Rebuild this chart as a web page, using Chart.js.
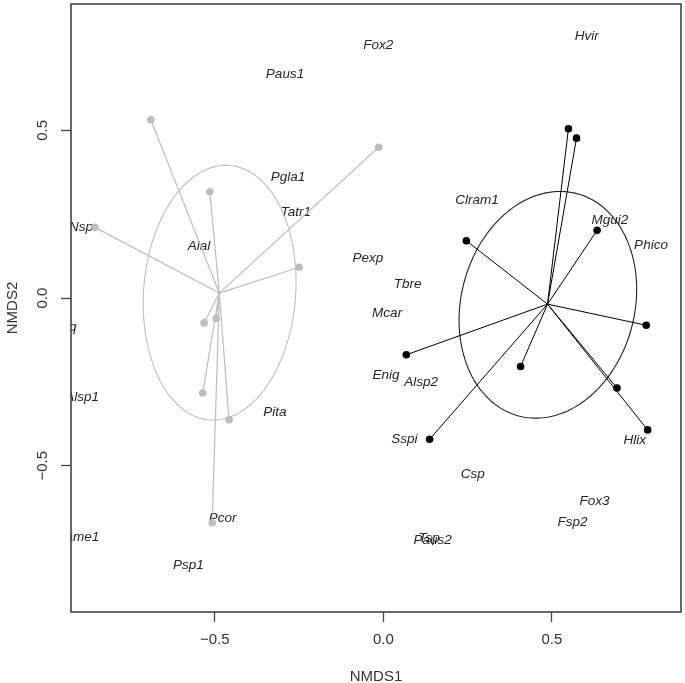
<!DOCTYPE html>
<html>
<head>
<meta charset="utf-8">
<script src="https://cdn.jsdelivr.net/npm/chart.js@4/dist/chart.umd.min.js"></script>
<style>
html,body{margin:0;padding:0;background:#fff;}
canvas{display:block;}
</style>
</head>
<body>
<canvas id="c" width="685" height="683"></canvas>
<script>
// ---- data ----
const xTicks = [-0.5, 0.0, 0.5];
const xTickLabels = ['\u22120.5', '0.0', '0.5'];
const yTicks = [-0.5, 0.0, 0.5];
const yTickLabels = ['\u22120.5', '0.0', '0.5'];
const xTitle = 'NMDS1';
const yTitle = 'NMDS2';

// group 1 (grey) sites
const greyX = [-0.690, -0.515, -0.856, -0.250, -0.014, -0.532, -0.496, -0.536, -0.458, -0.508];
const greyY = [ 0.532,  0.317,  0.211,  0.092,  0.450, -0.074, -0.061, -0.283, -0.363, -0.670];
const greyCentroid = [-0.487, 0.015];

// group 2 (black) sites
const blackX = [0.549, 0.573, 0.634, 0.246, 0.780, 0.068, 0.407, 0.693, 0.784, 0.137];
const blackY = [0.505, 0.477, 0.202, 0.171, -0.081, -0.169, -0.204, -0.268, -0.393, -0.421];
const blackCentroid = [0.487, -0.018];

// ellipses: centre, conjugate semi-axis u, conjugate semi-axis v (data units)
const greyEllipse = [-0.486, 0.016, 0.226, 0.0, 0.019, 0.380];
const blackEllipse = [0.488, -0.020, 0.261, 0.0, 0.036, 0.338];

// species labels
const speciesNames = ['Paus1','Fox2','Hvir','Pgla1','Tatr1','Nsp','Alal','Clram1','Mgui2','Phico',
  'Pexp','Tbre','Mcar','Lsq','Enig','Alsp2','Alsp1','Pita','Sspi','Hlix','Csp','Fox3','Fsp2',
  'Pcor','Came1','Psp1','Paus2','Tsp'];
const speciesX = [-0.292,-0.015,0.603,-0.283,-0.260,-0.897,-0.547,0.278,0.672,0.794,
  -0.046,0.072,0.011,-0.943,0.008,0.112,-0.894,-0.322,0.062,0.746,0.265,0.626,0.561,
  -0.477,-0.908,-0.579,0.146,0.136];
const speciesY = [0.668,0.753,0.782,0.361,0.255,0.210,0.154,0.292,0.233,0.157,
  0.119,0.042,-0.046,-0.087,-0.230,-0.250,-0.297,-0.339,-0.421,-0.424,-0.525,-0.607,-0.668,
  -0.655,-0.713,-0.797,-0.723,-0.716];

// ---- build datasets ----
const GREY = '#BEBEBE';
const datasets = [];
greyX.forEach((x, i) => {
  datasets.push({type:'line', data:[{x:greyCentroid[0], y:greyCentroid[1]}, {x:x, y:greyY[i]}],
    borderColor:GREY, borderWidth:1.2, pointRadius:0, fill:false, tension:0});
});
blackX.forEach((x, i) => {
  datasets.push({type:'line', data:[{x:blackCentroid[0], y:blackCentroid[1]}, {x:x, y:blackY[i]}],
    borderColor:'#000', borderWidth:1, pointRadius:0, fill:false, tension:0});
});
datasets.push({type:'scatter', data:greyX.map((x,i)=>({x:x, y:greyY[i]})),
  pointRadius:3.8, pointBackgroundColor:GREY, pointBorderWidth:0, borderColor:GREY});
datasets.push({type:'scatter', data:blackX.map((x,i)=>({x:x, y:blackY[i]})),
  pointRadius:3.8, pointBackgroundColor:'#000', pointBorderWidth:0, borderColor:'#000'});

const FONT = '"Liberation Sans", Arial, Helvetica, sans-serif';

const decor = {
  id: 'decor',
  beforeDatasetsDraw(chart) {
    const {ctx, chartArea:a, scales:{x, y}} = chart;
    ctx.save();
    ctx.beginPath();
    ctx.rect(a.left, a.top, a.right - a.left, a.bottom - a.top);
    ctx.clip();
    // species labels
    ctx.fillStyle = '#262626';
    ctx.font = 'italic 13.5px ' + FONT;
    ctx.textAlign = 'center';
    ctx.textBaseline = 'middle';
    speciesNames.forEach((n, i) => {
      ctx.fillText(n, x.getPixelForValue(speciesX[i]), y.getPixelForValue(speciesY[i]));
    });
    // ellipses
    const drawEll = (e, col) => {
      ctx.beginPath();
      const N = 240;
      for (let k = 0; k <= N; k++) {
        const t = 2 * Math.PI * k / N;
        const dx = e[0] + e[2] * Math.cos(t) + e[4] * Math.sin(t);
        const dy = e[1] + e[3] * Math.cos(t) + e[5] * Math.sin(t);
        const px = x.getPixelForValue(dx), py = y.getPixelForValue(dy);
        if (k === 0) ctx.moveTo(px, py); else ctx.lineTo(px, py);
      }
      ctx.strokeStyle = col;
      ctx.lineWidth = 1.1;
      ctx.stroke();
    };
    drawEll(greyEllipse, GREY);
    drawEll(blackEllipse, '#222');
    ctx.restore();
  },
  afterDraw(chart) {
    const {ctx, chartArea:a, scales:{x, y}} = chart;
    ctx.save();
    // box
    ctx.strokeStyle = '#444';
    ctx.lineWidth = 1.6;
    ctx.strokeRect(a.left, a.top, a.right - a.left, a.bottom - a.top);
    // tick labels
    ctx.fillStyle = '#333';
    ctx.font = '15px ' + FONT;
    ctx.textAlign = 'center';
    ctx.textBaseline = 'middle';
    xTicks.forEach((v, i) => ctx.fillText(xTickLabels[i], x.getPixelForValue(v), 640));
    yTicks.forEach((v, i) => {
      ctx.save();
      ctx.translate(43, y.getPixelForValue(v));
      ctx.rotate(-Math.PI / 2);
      ctx.fillText(yTickLabels[i], 0, 0);
      ctx.restore();
    });
    // titles
    ctx.fillText(xTitle, (a.left + a.right) / 2, 677);
    ctx.save();
    ctx.translate(12.5, (a.top + a.bottom) / 2);
    ctx.rotate(-Math.PI / 2);
    ctx.fillText(yTitle, 0, 0);
    ctx.restore();
    ctx.restore();
  }
};

new Chart(document.getElementById('c'), {
  type: 'scatter',
  data: { datasets },
  options: {
    responsive: false,
    animation: false,
    events: [],
    layout: { padding: { top: 1.5, right: 2.5, left: 0, bottom: 0 } },
    plugins: { legend: { display: false }, tooltip: { enabled: false } },
    scales: {
      x: {
        type: 'linear', position: 'bottom', min: -0.927, max: 0.883,
        afterBuildTicks: s => { s.ticks = xTicks.map(v => ({ value: v })); },
        afterFit: s => { s.height = 71; },
        ticks: { display: false },
        border: { display: false },
        grid: { drawOnChartArea: false, drawTicks: true, tickLength: 10, tickColor: '#444', tickWidth: 1.3 }
      },
      y: {
        type: 'linear', position: 'left', min: -0.936, max: 0.877,
        afterBuildTicks: s => { s.ticks = yTicks.map(v => ({ value: v })); },
        afterFit: s => { s.width = 71; },
        ticks: { display: false },
        border: { display: false },
        grid: { drawOnChartArea: false, drawTicks: true, tickLength: 10, tickColor: '#444', tickWidth: 1.3 }
      }
    }
  },
  plugins: [decor]
});
</script>
</body>
</html>
